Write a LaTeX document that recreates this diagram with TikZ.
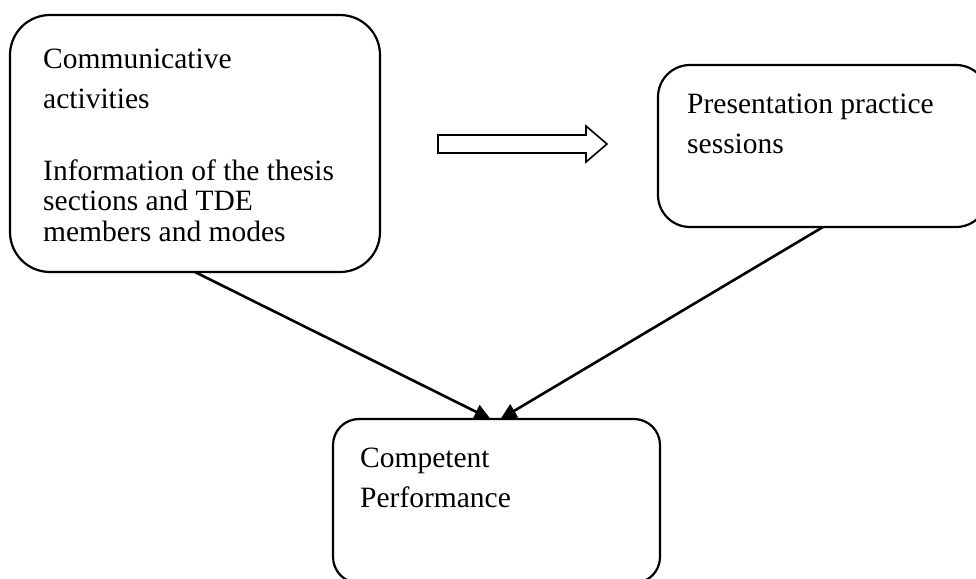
\documentclass[tikz,border=0pt]{standalone}
\usepackage{fontspec}
\setmainfont{Liberation Serif}
\usetikzlibrary{arrows.meta}

\tikzset{
  box/.style={draw, line width=2.2pt, rounded corners=#1, inner sep=0pt, outer sep=0pt},
  box/.default=32pt,
  label/.style={anchor=base west, inner sep=0pt, font=\fontsize{29.5}{30}\selectfont},
  conn/.style={line width=2.6pt, -{Triangle[length=16pt,width=15pt]}},
  blockarrow/.style={draw, line width=1.6pt, line join=miter, fill=white}
}

\begin{document}
\begin{tikzpicture}[x=1pt, y=-1pt]
  \useasboundingbox (0,0) rectangle (976,578);

  % boxes
  \node[box=40pt, minimum width=370pt, minimum height=257pt] (comm) at (195,143.5) {};
  \node[box=32pt, minimum width=330pt, minimum height=162pt] (pres) at (823,146) {};
  \node[box=26pt, minimum width=327pt, minimum height=164pt] (perf) at (496.5,501) {};

  % texts
  \node[label] (c1) at (43,68)  {Communicative};
  \node[label] (c2) at (43,108) {activities};
  \node[label] (c3) at (43,180) {Information of the thesis};
  \node[label] (c4) at (43,210) {sections and TDE};
  \node[label] (c5) at (43,241) {members and modes};

  \node[label] (p1) at (687,113) {Presentation practice};
  \node[label] (p2) at (687,153) {sessions};

  \node[label] (q1) at (360,467) {Competent};
  \node[label] (q2) at (360,507) {Performance};

  % outlined block arrow between the upper boxes
  \draw[blockarrow] (438,135) -- (586,135) -- (586,126) -- (607,144)
        -- (586,162) -- (586,153) -- (438,153) -- cycle;

  % connectors into the bottom box
  \draw[conn] (comm.south) -- ([xshift=-6pt]perf.north);
  \draw[conn] (pres.south) -- ([xshift=4pt]perf.north);
\end{tikzpicture}
\end{document}
